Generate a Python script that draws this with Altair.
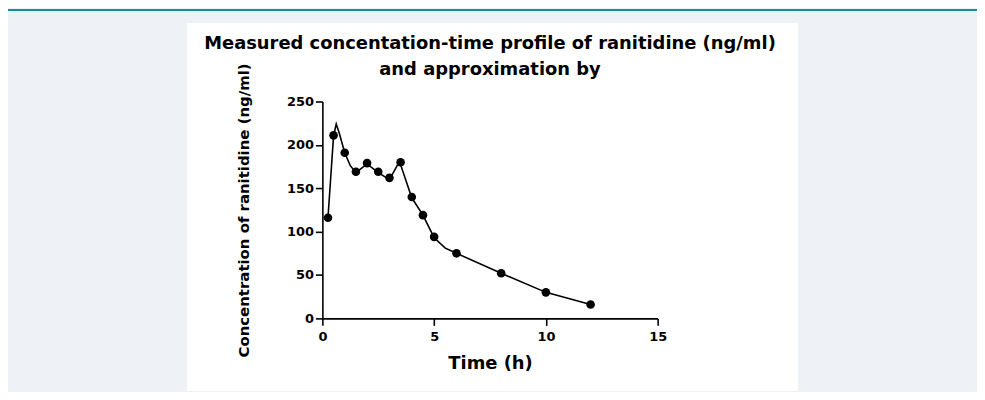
import altair as alt
import pandas as pd

# measured concentrations (points)
t_pts = [0.25, 0.5, 1.0, 1.5, 2.0, 2.5, 3.0, 3.5, 4.0, 4.5, 5.0, 6.0, 8.0, 10.0, 12.0]
c_pts = [116, 211, 191, 169, 179, 169, 162, 180, 140, 119, 94, 75, 52, 30, 16]

# approximation curve (line)
t_line = [0.25, 0.5, 0.62, 0.75, 1.0, 1.25, 1.5, 2.0, 2.5, 3.0, 3.45, 4.0, 4.5, 5.0, 5.5, 6.0, 8.0, 10.0, 12.0]
c_line = [116, 210, 224, 214, 191, 176, 168, 178, 168, 160, 181, 139, 119, 93, 81, 75, 52, 30, 16]

x_ticks = [0, 5, 10, 15]
y_ticks = [0, 50, 100, 150, 200, 250]

title_lines = ["Measured concentation-time profile of  ranitidine (ng/ml)", "and approximation by"]
x_title = "Time (h)"
y_title = "Concentration of ranitidine (ng/ml)"

FONT = "DejaVu Sans"

pts = pd.DataFrame({"t": t_pts, "c": c_pts})
line = pd.DataFrame({"t": t_line, "c": c_line})
one = pd.DataFrame({"a": [0]})

x_enc = alt.X(
    "t:Q",
    scale=alt.Scale(domain=[0, 15], nice=False, zero=True),
    axis=alt.Axis(
        values=x_ticks, title=x_title, grid=False, zindex=1,
        domainColor="black", domainWidth=1.6, tickColor="black", tickWidth=1.6, tickSize=7,
        labelFont=FONT, labelFontSize=13, labelFontWeight="bold", labelColor="black",
        labelPadding=5, labelFlush=False,
        titleFont=FONT, titleFontSize=18, titleFontWeight="bold", titleColor="black",
        titleX=168.5, titleY=50, titleAlign="center", titleBaseline="alphabetic",
    ),
)
y_enc = alt.Y(
    "c:Q",
    scale=alt.Scale(domain=[0, 250], nice=False),
    axis=alt.Axis(
        values=y_ticks, title=y_title, grid=False, zindex=1,
        domainColor="black", domainWidth=1.6, tickColor="black", tickWidth=1.6, tickSize=7,
        labelFont=FONT, labelFontSize=13, labelFontWeight="bold", labelColor="black",
        labelPadding=2, labelFlush=False,
        titleFont=FONT, titleFontSize=15, titleFontWeight="bold", titleColor="black",
        titleX=-79, titleY=109, titleAlign="center", titleBaseline="middle", titleAngle=270,
    ),
)

panel = alt.Chart(one).mark_rect(color="white").encode(
    x=alt.value(-136), x2=alt.value(478), y=alt.value(-79), y2=alt.value(291)
)
topline = alt.Chart(one).mark_rule(color="#1f8aa3", strokeWidth=2).encode(
    x=alt.value(-316), x2=alt.value(658), y=alt.value(-92), y2=alt.value(-92)
)
curve = alt.Chart(line).mark_line(color="black", strokeWidth=1.6).encode(x=x_enc, y=y_enc)
dots = alt.Chart(pts).mark_circle(color="black", opacity=1, size=75).encode(x=x_enc, y=y_enc)

chart = alt.layer(panel, topline, curve, dots).properties(
    width=337,
    height=218,
    title=alt.Title(
        title_lines, font=FONT, fontSize=18, fontWeight="bold", color="black",
        anchor="middle", frame="group", lineHeight=26, offset=-70,
    ),
    autosize=alt.AutoSizeParams(type="none"),
    padding={"left": 316, "right": 321, "top": 93, "bottom": 73},
    background="#eef1f5",
).configure_view(stroke=None)

chart.save("out.html", embed_options={"renderer": "svg", "actions": False})
